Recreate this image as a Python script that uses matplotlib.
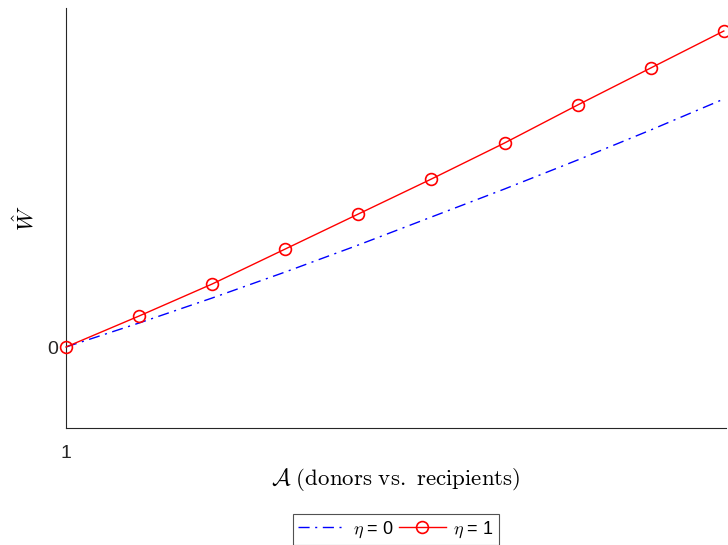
import numpy as np
import matplotlib.pyplot as plt

plt.rcParams['mathtext.fontset'] = 'cm'
plt.rcParams['font.family'] = ['Liberation Sans', 'DejaVu Sans']

# donor/recipient ratio samples
A = [1, 2, 3, 4, 5, 6, 7, 8, 9, 10]
# welfare gain, eta = 0 and eta = 1 (arbitrary units)
W_eta0 = [0, 0.24, 0.49, 0.75, 1.02, 1.30, 1.58, 1.87, 2.17, 2.48]
W_eta1 = [0, 0.31, 0.63, 0.98, 1.33, 1.68, 2.04, 2.42, 2.79, 3.16]

fig = plt.figure(figsize=(7.28, 5.45), dpi=100)
ax = fig.add_axes([66/728, 1 - 428/545, 660/728, 420/545])

l0, = ax.plot(A, W_eta0, color='blue', lw=1.0, label=r'$\eta$ = 0')
l0.set_dashes([8, 4, 1.5, 4])
ax.plot(A, W_eta1, color='red', lw=1.0, marker='o', markersize=8.5,
        markerfacecolor='none', markeredgewidth=1.2, label=r'$\eta$ = 1',
        clip_on=False, zorder=3)

ax.set_xlim(1, 10.03)
ax.set_ylim(-0.81, 3.39)
ax.set_xticks([1])
ax.set_yticks([0])
ax.tick_params(direction='in', length=0, labelsize=14, colors='#262626')
ax.tick_params(axis='x', pad=12)
ax.tick_params(axis='y', pad=6)

for s in ['top', 'right']:
    ax.spines[s].set_visible(False)
for s in ['left', 'bottom']:
    ax.spines[s].set_color('#262626')
    ax.spines[s].set_linewidth(0.8)

ax.set_xlabel(r'$\mathcal{A}\ \mathrm{(donors\ vs.\ recipients)}$', fontsize=16.5, labelpad=3)
ax.set_ylabel(r'$\hat{W}$', fontsize=16, labelpad=6)

leg = fig.legend(loc='lower center', bbox_to_anchor=(396/728, 0.0), ncol=2,
                 fontsize=13, frameon=True, fancybox=False, edgecolor='#262626',
                 handlelength=2.6, columnspacing=0.3, handletextpad=0.4,
                 borderpad=0.3, borderaxespad=0.0)
leg.get_frame().set_linewidth(0.8)

fig.savefig('out.png', dpi=100)
